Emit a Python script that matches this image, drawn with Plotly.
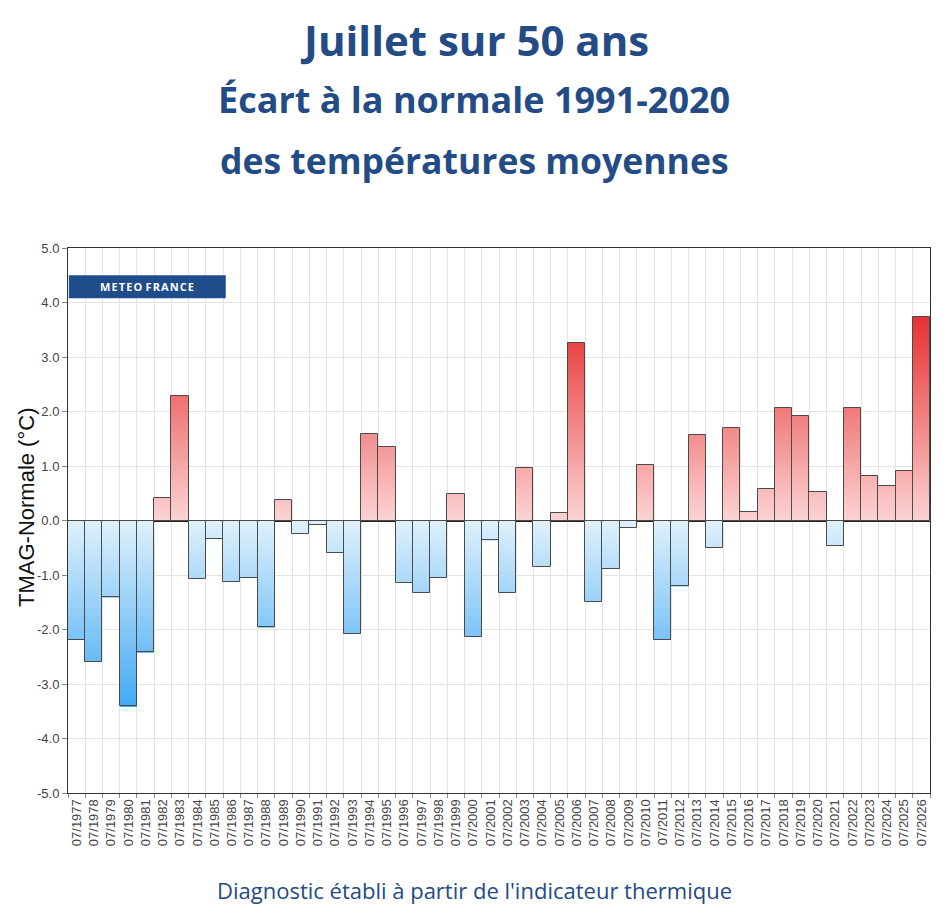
import numpy as np
import plotly.graph_objects as go

# July mean temperature anomaly vs 1991-2020 normal (°C)
years = list(range(1977, 2027))
months = [f"07/{y}" for y in years]
anomalies = [
    -2.2, -2.6, -1.41, -3.41, -2.42, 0.42, 2.28, -1.07, -0.34, -1.12,
    -1.05, -1.96, 0.37, -0.24, -0.09, -0.59, -2.08, 1.58, 1.35, -1.15,
    -1.33, -1.05, 0.48, -2.13, -0.36, -1.33, 0.97, -0.85, 0.14, 3.25,
    -1.49, -0.89, -0.14, 1.02, -2.2, -1.21, 1.56, -0.5, 1.7, 0.16,
    0.57, 2.06, 1.92, 0.53, -0.46, 2.06, 0.81, 0.63, 0.91, 3.74,
]
y_ticks = [-5, -4, -3, -2, -1, 0, 1, 2, 3, 4, 5]
y_ticklabels = [f"{v:.1f}" for v in y_ticks]

title_color = "#234b85"
vals = np.array(anomalies)

# vertical gradient: colour depends on height, built from thin stacked slices
step = 0.05
warm_lo, warm_hi, warm_max = np.array([252, 212, 212]), np.array([232, 46, 46]), 3.8
cold_lo, cold_hi, cold_max = np.array([224, 241, 252]), np.array([62, 168, 244]), 3.5


def mix(c0, c1, t):
    t = min(max(t, 0), 1)
    c = c0 + (c1 - c0) * t
    return f"rgb({int(c[0])},{int(c[1])},{int(c[2])})"


fig = go.Figure()

n_levels = int(np.ceil(np.abs(vals).max() / step))
for k in range(n_levels):
    lo, hi = k * step, (k + 1) * step
    mag = np.clip(np.abs(vals), lo, hi) - lo
    if not (mag > 0).any():
        continue
    bases = np.where(vals >= 0, lo, -lo - mag)
    colors = [mix(warm_lo, warm_hi, (lo + step / 2) / warm_max) if v >= 0
              else mix(cold_lo, cold_hi, (lo + step / 2) / cold_max) for v in vals]
    fig.add_bar(x=months, y=mag, base=bases, marker=dict(color=colors, line=dict(width=0)),
                showlegend=False, hoverinfo="skip")

# outlines
fig.add_bar(x=months, y=anomalies, marker=dict(color="rgba(0,0,0,0)",
            line=dict(color="#4a4a4a", width=1)), showlegend=False)

# page body has an 8px margin, so the figure is shrunk by 8px
fig.update_layout(
    width=940, height=910,
    margin=dict(l=60, r=18, t=240, b=125, autoexpand=False),
    paper_bgcolor="white", plot_bgcolor="white",
    barmode="overlay", bargap=0,
    font=dict(family="Liberation Sans, Arial, sans-serif", color="#333333"),
    xaxis=dict(type="category", tickson="boundaries", tickangle=-90,
               showgrid=True, gridcolor="#e4e4e4", gridwidth=1,
               showline=True, linecolor="#333333", linewidth=1, mirror=True,
               ticks="outside", ticklen=4, tickcolor="#888888",
               tickfont=dict(size=13, color="#444444")),
    yaxis=dict(range=[-5, 5], tickvals=y_ticks, ticktext=y_ticklabels,
               showgrid=True, gridcolor="#e4e4e4", gridwidth=1,
               zeroline=True, zerolinecolor="#222222", zerolinewidth=1.5,
               showline=True, linecolor="#333333", linewidth=1, mirror=True,
               ticks="outside", ticklen=5, tickcolor="#888888",
               tickfont=dict(size=13, color="#444444")),
)


def py(px):  # screen row -> paper y
    return (793 - px) / 545


# y axis title
fig.add_annotation(text="TMAG-Normale (°C)", xref="paper", yref="paper", x=(26 - 68) / 862, y=py(508),
                   xanchor="center", yanchor="middle", textangle=-90, showarrow=False,
                   font=dict(family="Liberation Sans, Arial, sans-serif", size=22, color="#111111"))

# METEO FRANCE banner
fig.add_shape(type="rect", xref="paper", yref="paper", x0=0.001, x1=0.183, y0=0.908, y1=0.950,
              fillcolor="#1f4c8a", line=dict(width=0), layer="above")
fig.add_annotation(text="<b>M E T E O   F R A N C E</b>".replace(" ", "\u200a"), xref="paper",
                   yref="paper", x=0.092, y=0.929,
                   xanchor="center", yanchor="middle", showarrow=False,
                   font=dict(family="Open Sans, sans-serif", size=11, color="white"))

cx = (474 - 68) / 862  # page centre in paper units
title_font = "Open Sans, sans-serif"
fig.add_annotation(text="<b>Juillet sur 50 ans</b>", xref="paper", yref="paper", x=cx, y=py(39),
                   xanchor="center", yanchor="middle", showarrow=False,
                   font=dict(family=title_font, size=42, color=title_color))
fig.add_annotation(text="<b>Écart à la normale 1991-2020</b>", xref="paper", yref="paper", x=cx,
                   y=py(99), xanchor="center", yanchor="middle", showarrow=False,
                   font=dict(family=title_font, size=36, color=title_color))
fig.add_annotation(text="<b>des températures moyennes</b>", xref="paper", yref="paper", x=cx,
                   y=py(160), xanchor="center", yanchor="middle", showarrow=False,
                   font=dict(family=title_font, size=35.5, color=title_color))
fig.add_annotation(text="Diagnostic établi à partir de l'indicateur thermique", xref="paper",
                   yref="paper", x=cx, y=py(890), xanchor="center", yanchor="middle", showarrow=False,
                   font=dict(family=title_font, size=22, color=title_color))

fig.write_html("out.html")
